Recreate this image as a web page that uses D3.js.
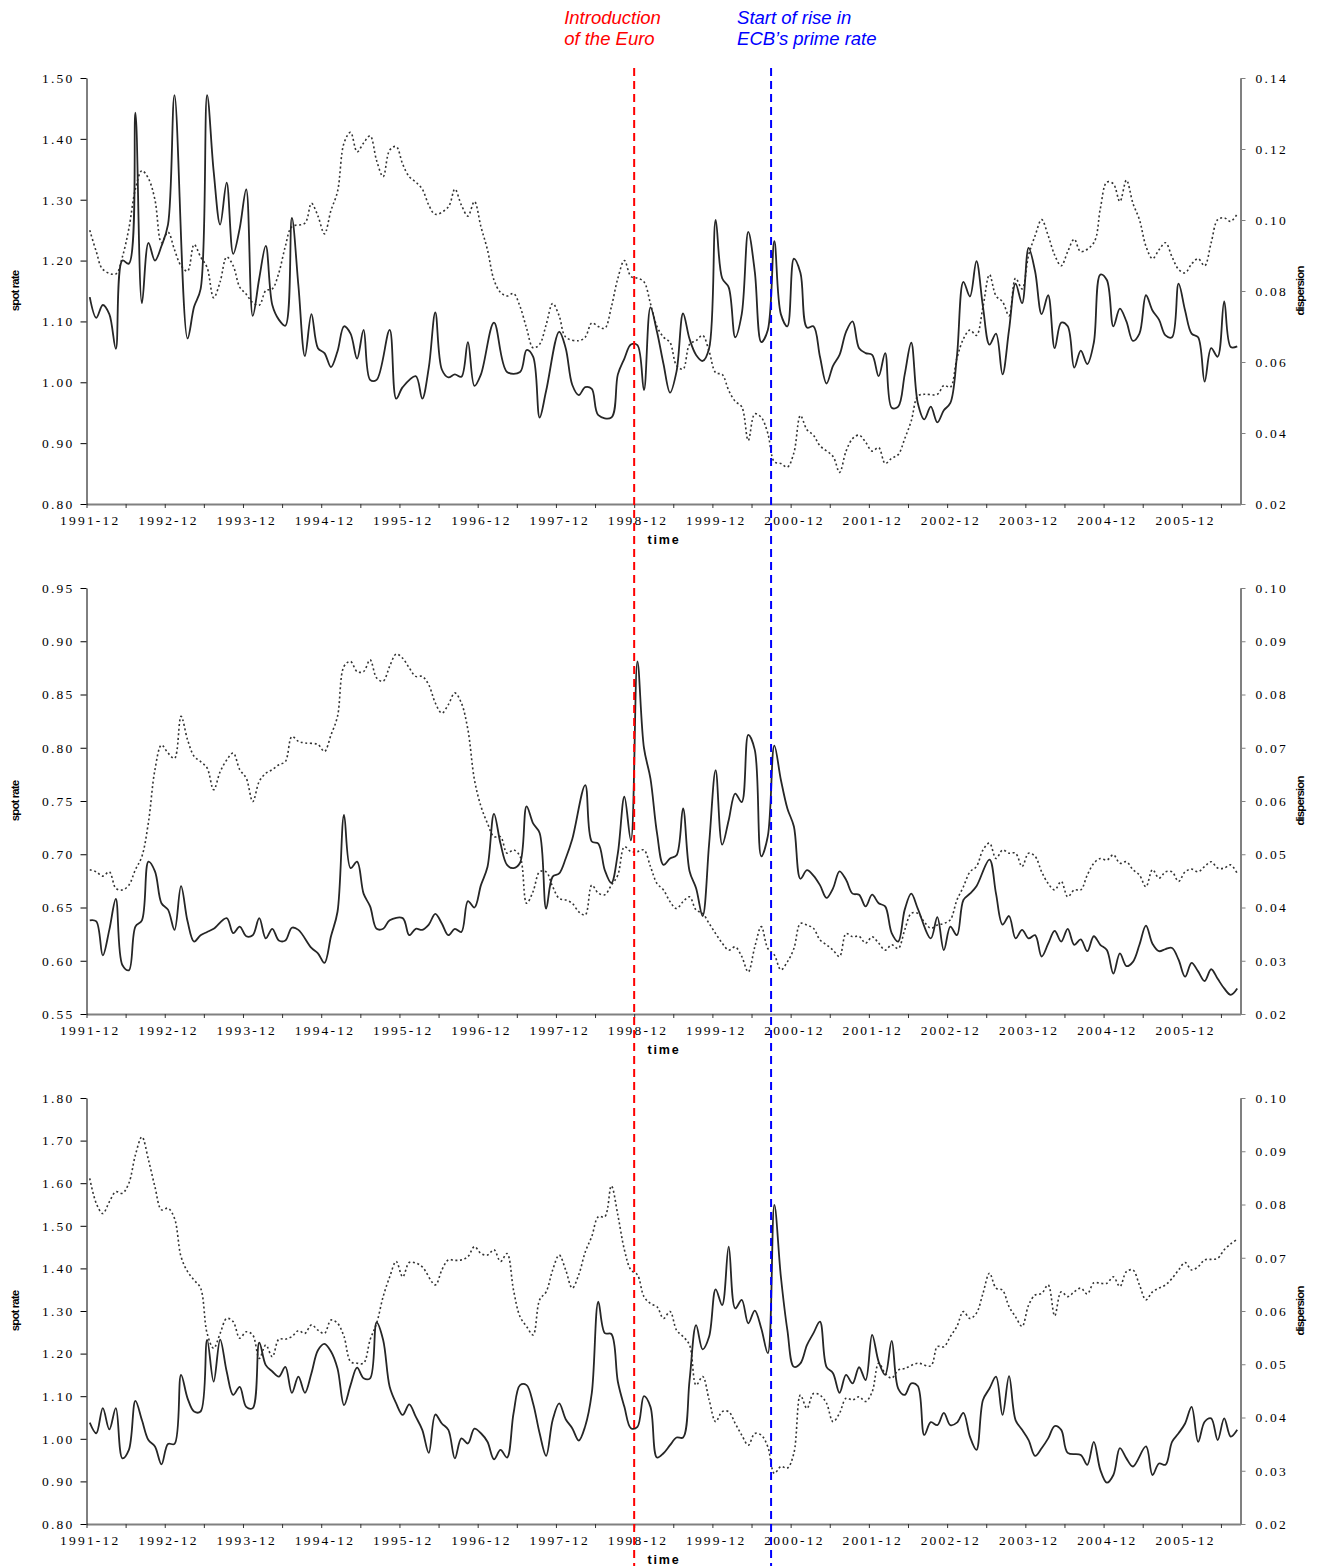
<!DOCTYPE html>
<html>
<head>
<meta charset="utf-8">
<script src="https://cdn.jsdelivr.net/npm/d3@7"></script>
<style>
  body { margin: 0; background: #fff; }
  .tick text { font-family: "Liberation Serif", "Times New Roman", serif; font-size: 13.5px; letter-spacing: 2.2px; fill: #000; }
</style>
</head>
<body>
<div id="chart"></div>
<script>
// months counted from 1991-12 (index 0) to 2006-08 (index 176)
const monthCount = 177;
const yearTicks = ["1991-12", "1992-12", "1993-12", "1994-12", "1995-12", "1996-12", "1997-12",
                   "1998-12", "1999-12", "2000-12", "2001-12", "2002-12", "2003-12", "2004-12", "2005-12"];

const eventMonths = [84, 105];
const eventLabels = [["Introduction", "of the Euro"], ["Start of rise in", "ECB\u2019s prime rate"]];
const eventColors = ["#ff0000", "#0000ff"];

// panel 1
const p1Spot = [[0,1.140],[1,1.106],[2,1.127],[3,1.112],[4,1.055],[5,1.200],[6,1.195],[7,1.443],[8,1.130],[9,1.229],[10,1.200],[11,1.224],[12,1.259],[13,1.472],[15,1.072],[16,1.124],[17,1.153],[18,1.472],[19,1.347],[20,1.259],[21,1.328],[22,1.211],[23,1.253],[24,1.317],[25,1.109],[26,1.171],[27,1.224],[28,1.127],[29,1.103],[30,1.093],[31,1.270],[32,1.159],[33,1.043],[34,1.112],[35,1.056],[36,1.048],[37,1.025],[38,1.051],[39,1.092],[40,1.080],[41,1.039],[42,1.086],[43,1.004],[44,1.004],[46,1.086],[47,0.973],[48,0.992],[50,1.010],[51,0.973],[52,1.024],[53,1.115],[54,1.021],[55,1.008],[56,1.013],[57,1.009],[58,1.066],[59,0.994],[60,1.013],[62,1.098],[64,1.017],[66,1.017],[67,1.053],[68,1.042],[69,0.942],[70,0.986],[72,1.083],[73,1.056],[74,0.996],[75,0.979],[76,0.992],[77,0.989],[78,0.946],[80,0.942],[81,1.013],[82,1.039],[83,1.062],[84,1.061],[85,0.987],[86,1.123],[87,1.083],[88,1.030],[89,0.983],[90,1.018],[91,1.113],[92,1.071],[93,1.045],[94,1.035],[95,1.056],[96,1.267],[97,1.171],[98,1.156],[99,1.074],[100,1.112],[101,1.247],[102,1.182],[103,1.066],[104,1.086],[105,1.232],[106,1.112],[107,1.092],[108,1.203],[109,1.180],[110,1.090],[111,1.092],[112,1.042],[113,0.998],[114,1.027],[115,1.045],[116,1.083],[117,1.100],[118,1.056],[119,1.048],[120,1.045],[121,1.010],[122,1.048],[123,0.958],[124,0.960],[125,1.013],[126,1.065],[127,0.966],[128,0.939],[129,0.960],[130,0.934],[131,0.954],[132,0.966],[133,1.042],[134,1.165],[135,1.141],[136,1.199],[137,1.124],[138,1.062],[139,1.080],[140,1.013],[141,1.086],[142,1.162],[143,1.130],[144,1.221],[145,1.182],[146,1.112],[147,1.143],[148,1.056],[149,1.098],[150,1.092],[151,1.024],[152,1.052],[153,1.030],[154,1.065],[155,1.177],[156,1.168],[157,1.092],[158,1.121],[159,1.100],[160,1.068],[161,1.080],[162,1.143],[163,1.118],[164,1.103],[165,1.077],[166,1.074],[167,1.162],[168,1.118],[169,1.080],[170,1.074],[171,1.001],[172,1.056],[173,1.042],[174,1.133],[175,1.058],[176,1.059]];
const p1Disp = [[0,.0971],[1,.0911],[2,.0861],[4,.0848],[5,.0896],[6,.0976],[7,.1087],[8,.1139],[9,.1117],[10,.1057],[11,.0936],[12,.0966],[13,.0916],[14,.0871],[15,.0856],[16,.0931],[17,.0896],[18,.0866],[19,.0781],[20,.0826],[21,.0896],[22,.0871],[23,.0811],[24,.0791],[25,.0767],[26,.0760],[27,.0801],[28,.0806],[29,.0851],[30,.0926],[31,.0981],[33,.0991],[34,.1047],[35,.1011],[36,.0961],[37,.1027],[38,.1080],[39,.1217],[40,.1247],[41,.1192],[42,.1217],[43,.1237],[44,.1167],[45,.1122],[46,.1197],[47,.1207],[48,.1157],[49,.1122],[50,.1107],[51,.1087],[52,.1042],[53,.1016],[55,.1037],[56,.1087],[57,.1042],[58,.1011],[59,.1052],[60,.0981],[61,.0916],[62,.0831],[63,.0796],[64,.0786],[65,.0793],[66,.0756],[67,.0695],[68,.0640],[69,.0650],[70,.0705],[71,.0765],[72,.0730],[73,.0670],[75,.0660],[76,.0670],[77,.0710],[78,.0700],[79,.0695],[80,.0755],[81,.0836],[82,.0886],[83,.0841],[84,.0836],[85,.0826],[86,.0765],[87,.0700],[88,.0670],[89,.0655],[90,.0590],[91,.0580],[92,.0650],[93,.0660],[94,.0675],[95,.0630],[96,.0570],[97,.0565],[98,.0520],[99,.0489],[100,.0474],[101,.0379],[102,.0454],[103,.0444],[104,.0399],[105,.0319],[106,.0314],[107,.0304],[108,.0344],[109,.0449],[110,.0409],[111,.0394],[112,.0364],[114,.0334],[115,.0289],[116,.0349],[117,.0384],[118,.0394],[119,.0374],[120,.0349],[121,.0359],[122,.0314],[123,.0329],[124,.0339],[125,.0384],[126,.0434],[127,.0504],[128,.0509],[130,.0509],[131,.0534],[132,.0529],[133,.0610],[134,.0665],[135,.0690],[136,.0675],[137,.0755],[138,.0846],[139,.0786],[140,.0770],[141,.0730],[142,.0836],[143,.0806],[144,.0901],[145,.0956],[146,.1001],[147,.0956],[148,.0901],[149,.0871],[150,.0911],[151,.0946],[152,.0911],[154,.0936],[155,.1032],[156,.1107],[157,.1102],[158,.1052],[159,.1112],[160,.1047],[161,.1001],[162,.0926],[163,.0891],[164,.0916],[165,.0936],[166,.0896],[167,.0861],[168,.0851],[169,.0876],[170,.0891],[171,.0871],[172,.0936],[173,.1001],[174,.1006],[175,.0996],[176,.1017]];

// panel 2
const p2Spot = [[0,.638],[1,.637],[2,.605],[3,.629],[4,.658],[5,.596],[6,.591],[7,.632],[8,.638],[9,.693],[10,.684],[11,.654],[12,.648],[13,.629],[14,.670],[15,.637],[16,.618],[17,.624],[18,.627],[19,.630],[21,.640],[22,.626],[23,.632],[24,.623],[25,.624],[26,.640],[27,.621],[28,.630],[29,.619],[30,.619],[31,.631],[32,.629],[34,.612],[35,.607],[36,.598],[37,.623],[38,.646],[39,.737],[40,.687],[41,.693],[42,.663],[43,.651],[44,.630],[45,.630],[46,.638],[48,.640],[49,.624],[50,.630],[51,.629],[52,.634],[53,.644],[54,.635],[55,.624],[56,.630],[57,.627],[58,.656],[59,.650],[60,.671],[61,.688],[62,.738],[63,.710],[64,.690],[65,.687],[66,.692],[67,.745],[68,.729],[69,.720],[70,.649],[71,.679],[72,.682],[73,.696],[74,.714],[76,.765],[77,.712],[78,.710],[79,.685],[80,.673],[81,.701],[82,.754],[83,.713],[84,.881],[85,.800],[86,.771],[87,.720],[88,.690],[89,.696],[90,.699],[91,.743],[92,.684],[93,.668],[94,.642],[95,.710],[96,.779],[97,.709],[98,.732],[99,.757],[100,.749],[101,.812],[102,.798],[103,.698],[104,.717],[105,.802],[106,.770],[107,.743],[108,.726],[109,.677],[110,.685],[111,.680],[112,.671],[113,.659],[114,.668],[115,.684],[116,.676],[117,.663],[118,.662],[119,.651],[120,.662],[121,.654],[122,.651],[123,.626],[124,.618],[125,.648],[126,.663],[127,.649],[129,.621],[130,.641],[131,.610],[132,.632],[133,.624],[134,.657],[135,.663],[136,.670],[138,.695],[139,.663],[140,.634],[141,.642],[142,.621],[143,.629],[144,.621],[145,.624],[146,.604],[147,.616],[148,.628],[149,.618],[150,.630],[151,.615],[152,.620],[153,.609],[154,.623],[155,.615],[156,.610],[157,.588],[158,.607],[159,.595],[160,.599],[161,.615],[162,.633],[163,.616],[164,.609],[165,.611],[166,.612],[167,.601],[168,.585],[169,.598],[170,.590],[171,.581],[172,.592],[173,.583],[174,.574],[175,.568],[176,.574]];
const p2Disp = [[0,.0471],[1,.0467],[2,.0459],[3,.0467],[4,.0436],[5,.0433],[6,.0442],[7,.0471],[8,.0496],[9,.0560],[10,.0659],[11,.0705],[12,.0690],[13,.0680],[14,.0759],[15,.0715],[16,.0684],[17,.0674],[18,.0662],[19,.0621],[20,.0655],[21,.0677],[22,.0690],[23,.0659],[24,.0643],[25,.0599],[26,.0637],[27,.0652],[28,.0659],[29,.0668],[30,.0674],[31,.0721],[32,.0712],[33,.0709],[35,.0706],[36,.0693],[37,.0724],[38,.0759],[39,.0853],[40,.0862],[41,.0843],[42,.0843],[43,.0865],[44,.0831],[45,.0825],[46,.0853],[47,.0876],[48,.0868],[49,.0850],[50,.0834],[51,.0834],[52,.0818],[53,.0784],[54,.0765],[55,.0781],[56,.0803],[57,.0784],[58,.0734],[59,.0640],[60,.0590],[61,.0558],[62,.0533],[63,.0533],[64,.0502],[65,.0508],[66,.0496],[67,.0408],[68,.0430],[69,.0467],[70,.0467],[71,.0439],[72,.0417],[73,.0414],[74,.0408],[75,.0392],[76,.0386],[77,.0442],[78,.0427],[79,.0424],[80,.0442],[81,.0461],[82,.0514],[83,.0505],[84,.0505],[85,.0508],[86,.0477],[87,.0445],[88,.0433],[89,.0411],[90,.0398],[91,.0411],[92,.0420],[93,.0395],[94,.0389],[95,.0370],[96,.0351],[97,.0333],[98,.0320],[99,.0326],[100,.0308],[101,.0279],[102,.0326],[103,.0364],[104,.0323],[105,.0311],[106,.0283],[107,.0298],[108,.0323],[109,.0370],[110,.0367],[111,.0361],[112,.0339],[113,.0330],[114,.0320],[115,.0308],[116,.0351],[117,.0345],[118,.0346],[119,.0333],[120,.0345],[121,.0333],[122,.0320],[123,.0330],[124,.0323],[125,.0358],[126,.0389],[127,.0389],[128,.0373],[129,.0361],[130,.0367],[131,.0370],[132,.0377],[133,.0414],[134,.0439],[135,.0467],[136,.0477],[137,.0508],[138,.0521],[139,.0492],[140,.0508],[141,.0502],[142,.0502],[143,.0477],[144,.0502],[145,.0496],[146,.0467],[147,.0445],[148,.0433],[149,.0449],[150,.0420],[151,.0433],[152,.0433],[153,.0461],[154,.0483],[155,.0492],[156,.0489],[157,.0499],[158,.0483],[159,.0486],[160,.0471],[161,.0461],[162,.0439],[163,.0471],[164,.0455],[165,.0467],[166,.0467],[167,.0449],[168,.0467],[169,.0472],[170,.0467],[171,.0477],[172,.0486],[173,.0474],[174,.0474],[175,.0480],[176,.0464]];

// panel 3
const p3Spot = [[0,1.038],[1,1.013],[2,1.072],[3,1.022],[4,1.072],[5,0.954],[6,0.974],[7,1.089],[8,1.044],[9,0.997],[10,0.982],[11,0.940],[12,0.988],[13,0.988],[14,1.150],[15,1.095],[16,1.064],[17,1.064],[18,1.232],[19,1.134],[20,1.233],[21,1.158],[22,1.103],[23,1.122],[24,1.075],[25,1.072],[26,1.226],[27,1.173],[28,1.158],[29,1.146],[30,1.169],[31,1.108],[32,1.146],[33,1.108],[34,1.154],[35,1.208],[36,1.223],[37,1.205],[38,1.165],[39,1.079],[40,1.126],[41,1.167],[42,1.142],[43,1.142],[44,1.273],[45,1.232],[46,1.122],[47,1.083],[48,1.056],[49,1.081],[50,1.052],[51,1.021],[52,0.967],[53,1.057],[54,1.036],[55,1.021],[56,0.954],[57,1.001],[58,0.989],[59,1.024],[60,1.013],[61,0.993],[62,0.952],[63,0.974],[64,0.956],[65,1.060],[66,1.126],[67,1.126],[68,1.083],[69,1.013],[70,0.960],[71,1.044],[72,1.083],[73,1.046],[74,1.025],[75,0.996],[76,1.030],[77,1.107],[78,1.322],[79,1.248],[80,1.246],[81,1.134],[82,1.075],[83,1.025],[84,1.028],[85,1.100],[86,1.075],[87,0.956],[88,0.966],[89,0.985],[90,1.003],[91,1.003],[92,1.138],[93,1.267],[94,1.210],[95,1.240],[96,1.351],[97,1.314],[98,1.451],[99,1.306],[100,1.326],[101,1.271],[102,1.301],[103,1.259],[104,1.201],[105,1.549],[106,1.381],[107,1.255],[108,1.169],[109,1.177],[110,1.220],[111,1.248],[112,1.275],[113,1.169],[114,1.154],[115,1.108],[116,1.150],[117,1.130],[118,1.168],[119,1.138],[120,1.244],[121,1.181],[122,1.150],[123,1.230],[124,1.118],[125,1.103],[126,1.130],[127,1.124],[128,1.009],[129,1.039],[130,1.032],[131,1.061],[132,1.032],[133,1.038],[134,1.061],[135,1.005],[136,0.974],[137,1.091],[138,1.118],[139,1.146],[140,1.056],[141,1.147],[142,1.044],[143,1.021],[144,0.997],[145,0.960],[146,0.978],[147,1.001],[148,1.030],[149,1.021],[150,0.967],[152,0.962],[153,0.939],[154,0.993],[155,0.927],[156,0.897],[157,0.915],[158,0.978],[159,0.954],[160,0.935],[162,0.982],[163,0.915],[164,0.942],[165,0.939],[166,0.993],[167,1.013],[168,1.036],[169,1.075],[170,0.993],[171,1.040],[172,1.048],[173,0.997],[174,1.048],[175,1.005],[176,1.021]];
const p3Disp = [[0,.0849],[1,.0802],[2,.0783],[3,.0805],[4,.0824],[5,.0821],[6,.0840],[7,.0893],[8,.0927],[9,.0884],[10,.0833],[11,.0790],[12,.0793],[13,.0774],[14,.0702],[15,.0674],[16,.0658],[17,.0643],[18,.0558],[19,.0530],[20,.0558],[21,.0586],[22,.0580],[23,.0549],[24,.0561],[25,.0555],[26,.0511],[27,.0536],[28,.0514],[29,.0547],[30,.0547],[31,.0552],[32,.0563],[33,.0558],[34,.0574],[35,.0564],[36,.0558],[37,.0583],[38,.0577],[39,.0552],[40,.0505],[41,.0502],[42,.0502],[43,.0546],[44,.0577],[45,.0627],[46,.0664],[47,.0693],[48,.0664],[49,.0691],[50,.0690],[51,.0683],[53,.0649],[54,.0677],[55,.0696],[56,.0695],[57,.0696],[58,.0702],[59,.0721],[60,.0708],[61,.0705],[62,.0715],[63,.0693],[64,.0708],[65,.0639],[66,.0589],[67,.0571],[68,.0555],[69,.0621],[70,.0636],[71,.0677],[72,.0705],[73,.0677],[74,.0643],[75,.0668],[76,.0711],[77,.0740],[78,.0777],[79,.0777],[80,.0835],[81,.0780],[82,.0715],[83,.0677],[84,.0668],[85,.0627],[86,.0614],[87,.0608],[88,.0586],[89,.0599],[90,.0564],[91,.0552],[92,.0536],[93,.0461],[94,.0477],[95,.0433],[96,.0392],[97,.0411],[98,.0411],[99,.0389],[100,.0367],[101,.0348],[102,.0370],[103,.0367],[104,.0345],[105,.0295],[106,.0308],[107,.0305],[108,.0333],[109,.0442],[110,.0417],[111,.0445],[112,.0442],[113,.0427],[114,.0392],[115,.0408],[116,.0436],[117,.0433],[118,.0439],[119,.0430],[120,.0448],[121,.0502],[122,.0483],[123,.0474],[124,.0489],[125,.0492],[127,.0502],[129,.0497],[130,.0533],[131,.0533],[132,.0552],[133,.0571],[134,.0599],[135,.0586],[136,.0596],[137,.0633],[138,.0671],[139,.0643],[140,.0639],[141,.0608],[142,.0589],[143,.0571],[144,.0611],[145,.0630],[146,.0633],[147,.0649],[148,.0591],[149,.0636],[150,.0627],[151,.0636],[152,.0643],[153,.0632],[154,.0653],[155,.0652],[156,.0652],[157,.0664],[158,.0646],[159,.0674],[160,.0677],[161,.0649],[162,.0621],[163,.0636],[164,.0643],[165,.0649],[166,.0661],[167,.0677],[168,.0691],[169,.0677],[170,.0683],[171,.0696],[172,.0697],[173,.0699],[174,.0715],[175,.0726],[176,.0735]];

// axis settings per panel: [min, max, step]
const panels = [
    {spot: p1Spot, disp: p1Disp, left: [0.80, 1.50, 0.10], right: [0.02, 0.14, 0.02], top: 78},
    {spot: p2Spot, disp: p2Disp, left: [0.55, 0.95, 0.05], right: [0.02, 0.10, 0.01], top: 588},
    {spot: p3Spot, disp: p3Disp, left: [0.80, 1.80, 0.10], right: [0.02, 0.10, 0.01], top: 1098}
];

const width = 1321, height = 1566;
const plotHeight = 426;
const axisGrey = "#808080";

const svg = d3.select("#chart")
              .append("svg")
              .attr("width", width)
              .attr("height", height);

const x = d3.scaleLinear().domain([0, monthCount]).range([86.5, 1240.5]);

function steps(a) {
    const n = Math.round((a[1] - a[0]) / a[2]);
    return d3.range(n + 1).map(function (i) { return a[0] + i * a[2]; });
}

panels.forEach(function (p) {
    const bottom = p.top + plotHeight;
    const yL = d3.scaleLinear().domain([p.left[0], p.left[1]]).range([bottom, p.top]);
    const yR = d3.scaleLinear().domain([p.right[0], p.right[1]]).range([bottom, p.top]);
    const g = svg.append("g");

    // tick marks every six months
    const xTicks = g.append("g")
                    .attr("transform", "translate(0," + bottom + ")")
                    .call(d3.axisBottom(x)
                            .tickValues(d3.range(0, monthCount, 6))
                            .tickFormat("")
                            .tickSize(4)
                            .tickSizeOuter(0));
    xTicks.select(".domain").attr("stroke", axisGrey).attr("stroke-width", 2);
    xTicks.selectAll(".tick line").attr("stroke", "#333");

    // year labels at the centre of each december
    g.append("g")
     .attr("transform", "translate(0," + bottom + ")")
     .call(d3.axisBottom(x)
             .tickValues(yearTicks.map(function (d, i) { return i * 12 + 0.5; }))
             .tickFormat(function (d, i) { return yearTicks[i]; })
             .tickSize(0)
             .tickPadding(11))
     .call(function (a) { a.select(".domain").remove(); });

    const left = g.append("g")
                  .attr("transform", "translate(" + x(0) + ",0)")
                  .call(d3.axisLeft(yL)
                          .tickValues(steps(p.left))
                          .tickFormat(d3.format(".2f"))
                          .tickSize(6)
                          .tickSizeOuter(0)
                          .tickPadding(6));
    left.select(".domain").attr("stroke", "#000");

    const right = g.append("g")
                   .attr("transform", "translate(" + x(monthCount) + ",0)")
                   .call(d3.axisRight(yR)
                           .tickValues(steps(p.right))
                           .tickFormat(d3.format(".2f"))
                           .tickSize(5)
                           .tickSizeOuter(0)
                           .tickPadding(10));
    right.select(".domain").attr("stroke", axisGrey).attr("stroke-width", 2);
    right.selectAll(".tick line").attr("stroke", axisGrey);

    const dispLine = d3.line()
                       .x(function (d) { return x(d[0] + 0.5); })
                       .y(function (d) { return yR(d[1]); })
                       .curve(d3.curveCatmullRom.alpha(0.5));
    g.append("path")
     .datum(p.disp)
     .attr("d", dispLine)
     .attr("fill", "none")
     .attr("stroke", "#333")
     .attr("stroke-width", 1.6)
     .attr("stroke-dasharray", "2,2.6");

    const spotLine = d3.line()
                       .x(function (d) { return x(d[0] + 0.5); })
                       .y(function (d) { return yL(d[1]); })
                       .curve(d3.curveCatmullRom.alpha(0.5));
    g.append("path")
     .datum(p.spot)
     .attr("d", spotLine)
     .attr("fill", "none")
     .attr("stroke", "#262626")
     .attr("stroke-width", 1.8);

    // axis titles
    const mid = (p.top + bottom) / 2;
    g.append("text")
     .attr("transform", "translate(19," + mid + ")rotate(-90)")
     .attr("text-anchor", "middle")
     .style("font-family", "'Liberation Sans', Arial, sans-serif")
     .style("font-size", "11.5px")
     .style("font-weight", "bold")
     .style("letter-spacing", "-0.9px")
     .text("spot rate");
    g.append("text")
     .attr("transform", "translate(1304," + mid + ")rotate(-90)")
     .attr("text-anchor", "middle")
     .style("font-family", "'Liberation Sans', Arial, sans-serif")
     .style("font-size", "11.5px")
     .style("font-weight", "bold")
     .style("letter-spacing", "-0.9px")
     .text("dispersion");
    g.append("text")
     .attr("x", 664)
     .attr("y", bottom + 40)
     .attr("text-anchor", "middle")
     .style("font-family", "'Liberation Sans', Arial, sans-serif")
     .style("font-size", "12.5px")
     .style("font-weight", "bold")
     .style("letter-spacing", "1.8px")
     .text("time");
});

// event markers across all panels
eventMonths.forEach(function (m, i) {
    svg.append("line")
       .attr("x1", x(m)).attr("x2", x(m))
       .attr("y1", 68).attr("y2", height)
       .attr("stroke", eventColors[i])
       .attr("stroke-width", 2)
       .attr("stroke-dasharray", "8,5");
    const tx = x(m) + (i === 0 ? -70 : -34);
    const label = svg.append("text")
                     .attr("x", tx)
                     .attr("y", 24)
                     .attr("fill", eventColors[i])
                     .style("font-family", "'Liberation Sans', Arial, sans-serif")
                     .style("font-size", "18.5px")
                     .style("font-style", "italic");
    eventLabels[i].forEach(function (t, j) {
        label.append("tspan")
             .attr("x", tx)
             .attr("dy", j === 0 ? 0 : 21)
             .text(t);
    });
});
</script>
</body>
</html>
